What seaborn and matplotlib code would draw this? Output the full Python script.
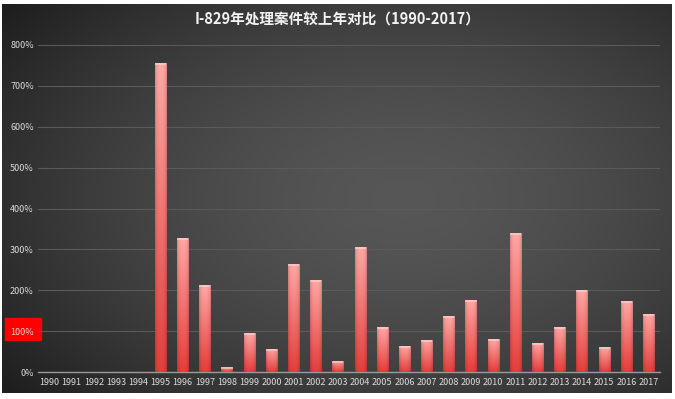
import matplotlib
matplotlib.use("Agg")
import matplotlib.pyplot as plt
import numpy as np
import pandas as pd
import seaborn as sns
from matplotlib.patches import Rectangle
from matplotlib.ticker import FuncFormatter

# year-over-year ratio of I-829 cases processed (percent)
years = [str(y) for y in range(1990, 2018)]
ratios = [0, 0, 0, 0, 0,
          757, 329, 213, 13, 95, 57, 265, 224, 27, 305,
          109, 63, 79, 136, 177, 80, 339, 71, 111, 201,
          61, 173, 143]
title = "I-829年处理案件较上年对比（1990-2017）"

sns.set_theme(style="dark")
plt.rcParams["font.family"] = ["Noto Sans CJK SC", "DejaVu Sans"]

W, H = 675, 399
fig = plt.figure(figsize=(W / 100, H / 100), dpi=100)
fig.patch.set_facecolor("white")


def fx(px):
    return px / W


def fy(py):
    return 1 - py / H


# dark background with a soft radial glow
bg = fig.add_axes([fx(2), fy(393), fx(670), 389 / H])
bg.set_axis_off()
gx, gy = np.meshgrid(np.linspace(0, 1, 300), np.linspace(0, 1, 200))
dist = np.sqrt(((gx - 0.6) / 0.75) ** 2 + ((gy - 0.5) / 0.8) ** 2)
shade = np.clip(0.34 - 0.22 * dist ** 1.6, 0.11, 0.34)
bg.imshow(np.dstack([shade] * 3), extent=[0, 1, 0, 1], aspect="auto")
bg.set_xlim(0, 1)
bg.set_ylim(0, 1)

# red box behind the 100% label
fig.patches.append(Rectangle((fx(5), fy(340)), fx(36), 22 / H,
                             transform=fig.transFigure, color="#ff0000",
                             zorder=0.5))

ax = fig.add_axes([fx(38), fy(372), fx(622), (372 - 45) / H])
ax.set_facecolor("none")
ax.set_zorder(2)

df = pd.DataFrame({"year": years, "ratio": ratios})
sns.barplot(data=df, x="year", y="ratio", ax=ax, width=0.5,
            color="#e84a47", saturation=1, linewidth=0)

# vertical pink-to-red gradient on each bar
t = np.linspace(0, 1, 100)[:, None]
s = np.linspace(-1, 1, 40)[None, :]
top = np.array([1.0, 0.66, 0.65])
bot = np.array([0.90, 0.24, 0.23])
grad = bot + (top - bot) * t[..., None]
grad = grad * (1 - 0.18 * np.abs(s)[..., None] ** 3)
for p in ax.patches:
    x0, y0 = p.get_x(), p.get_y()
    w, h = p.get_width(), p.get_height()
    p.set_edgecolor("none")
    p.set_linewidth(0)
    if h <= 0:
        p.set_visible(False)
        continue
    im = ax.imshow(grad, extent=[x0, x0 + w, y0, y0 + h], origin="lower",
                   aspect="auto", zorder=3)
    im.set_clip_path(p)
    p.set_facecolor("none")
    ax.add_patch(Rectangle((x0, y0 + h - 5), w, 5, color="#ffd6d4",
                           alpha=0.6, lw=0, zorder=4))

ax.set_xlim(-0.52, 27.52)
ax.set_ylim(0, 800)
ax.set_yticks(range(0, 801, 100))
ax.yaxis.set_major_formatter(FuncFormatter(lambda v, _: f"{int(v)}%"))
ax.grid(axis="y", color="#5a5a5a", lw=0.8)
ax.grid(axis="x", visible=False)
ax.set_axisbelow(True)
ax.set_xlabel("")
ax.set_ylabel("")
for side in ["left", "right", "top"]:
    ax.spines[side].set_visible(False)
ax.spines["bottom"].set_color("#9a9a9a")
ax.spines["bottom"].set_linewidth(1.0)
ax.tick_params(axis="both", length=0, colors="#dcdcdc", labelsize=6.5)
ax.tick_params(axis="y", pad=3)
ax.tick_params(axis="x", pad=4.5)

fig.text(fx(338), fy(20), title, ha="center", va="center", color="#f2f2f2",
         fontsize=10.5, fontweight="bold")

fig.savefig("out.png", dpi=100)
